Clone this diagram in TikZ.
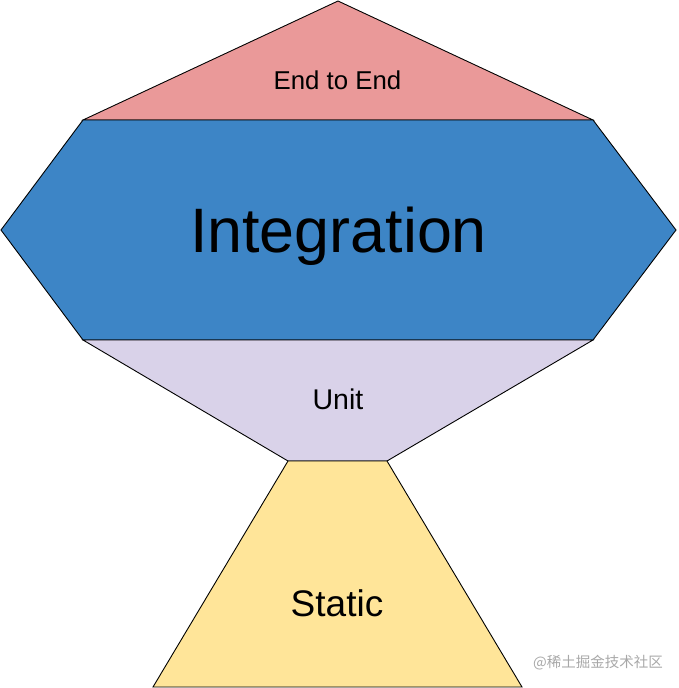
\documentclass[tikz,border=0pt]{standalone}
\usepackage{fontspec}
\setmainfont{Liberation Sans}
\newfontfamily\cjkfont{Noto Sans CJK SC}
\usepackage{xcolor}
\usepackage{tikz}
\usetikzlibrary{calc}
\definecolor{lightred}{HTML}{EA9999}
\definecolor{midblue}{HTML}{3D85C6}
\definecolor{lightpurple}{HTML}{D9D2E9}
\definecolor{lightyellow}{HTML}{FFE599}
\definecolor{markgray}{HTML}{A8A8A8}
\begin{document}
\begin{tikzpicture}[
  x=1pt,y=-1pt,
  layer/.style={draw=black,line width=0.9pt,line join=miter},
  lbl/.style={anchor=base,inner sep=0pt,text=black}
]
\useasboundingbox (0,0) rectangle (679,688);
% corner points of the pyramid
\coordinate (apex) at (338,1);
\coordinate (tl) at (83,120);
\coordinate (tr) at (593,120);
\coordinate (ml) at (1,230);
\coordinate (mr) at (676,230);
\coordinate (bl) at (83,340);
\coordinate (br) at (593,340);
\coordinate (nl) at (288,461);
\coordinate (nr) at (387,461);
\coordinate (sl) at (153,687);
\coordinate (sr) at (522,687);
\draw[layer,fill=lightred] (apex)--(tr)--(tl)--cycle;
\draw[layer,fill=midblue] (tl)--(tr)--(mr)--(br)--(bl)--(ml)--cycle;
\draw[layer,fill=lightpurple] (bl)--(br)--(nr)--(nl)--cycle;
\draw[layer,fill=lightyellow] (nl)--(nr)--(sr)--(sl)--cycle;
\node[lbl,font=\fontsize{25.8}{25.8}\selectfont] (e2e) at (337.5,89) {End to End};
\node[lbl,font=\fontsize{62.8}{62.8}\selectfont] (integ) at (338.5,252) {Integration};
\node[lbl,font=\fontsize{28.5}{28.5}\selectfont] (unit) at (338,409) {Unit};
\node[lbl,font=\fontsize{37}{37}\selectfont] (static) at (337,616) {Static};
\node[lbl,anchor=base west,text=markgray,font=\cjkfont\fontsize{14.5}{14.5}\selectfont] (mark) at (533,667) {@稀土掘金技术社区};
\end{tikzpicture}
\end{document}
